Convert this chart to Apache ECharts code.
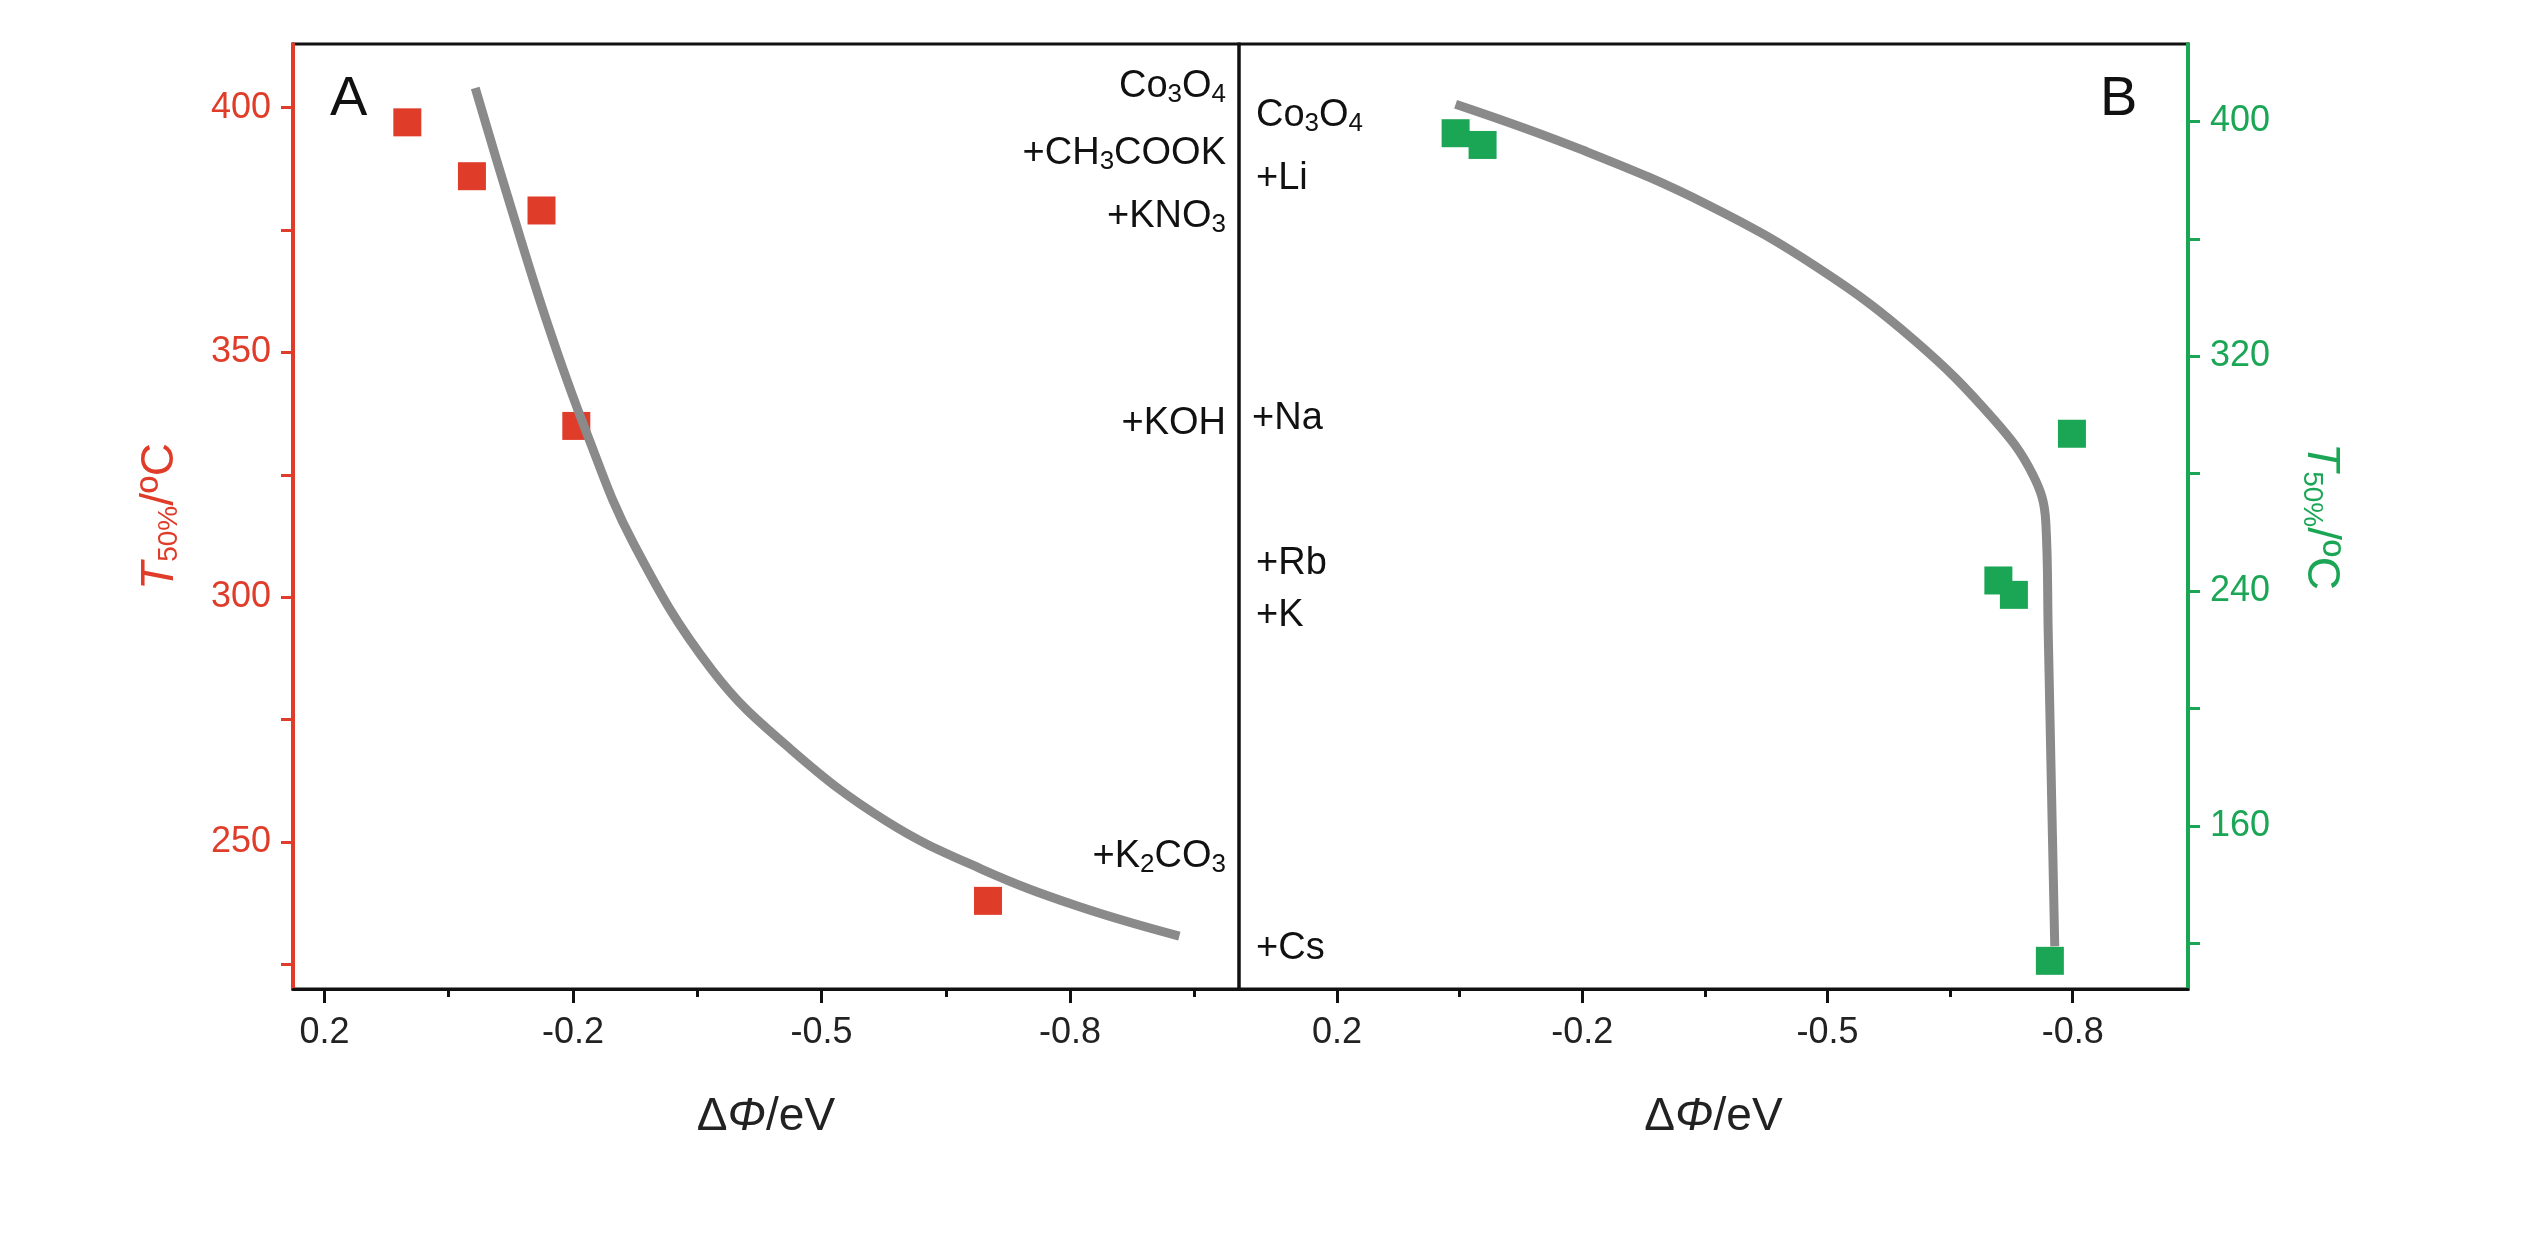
<!DOCTYPE html>
<html>
<head>
<meta charset="utf-8">
<script src="https://cdn.jsdelivr.net/npm/echarts@6/dist/echarts.min.js"></script>
<style>html,body{margin:0;background:#fff}#c{width:2531px;height:1244px}</style>
</head>
<body>
<div id="c"></div>
<script>
// tick positions and the labels printed under them
const xTickVals = [0.1, -0.2, -0.5, -0.8];
const xTickLabels = ['0.2', '-0.2', '-0.5', '-0.8'];
const xMinorVals = [-0.05, -0.35, -0.65, -0.95];
const aTicks = [250, 300, 350, 400];
const aMinor = [225, 275, 325, 375];
const bTicks = [160, 240, 320, 400];
const bMinor = [120, 200, 280, 360];
// panel A (left axis)
const aPoints = [[0.0, 397], [-0.078, 386], [-0.162, 379], [-0.204, 335], [-0.701, 238]];
const aCurve = [[-0.082, 404], [-0.120, 382.5], [-0.168, 356.5], [-0.216, 333.8], [-0.273, 311], [-0.368, 285.1],
    [-0.464, 268.8], [-0.579, 254.2], [-0.693, 244.5], [-0.808, 237], [-0.932, 230.8]];
// panel B (right axis)
const bPoints = [[-0.045, 396], [-0.078, 392], [-0.709, 243.6], [-0.728, 238.7], [-0.799, 293.6], [-0.772, 114]];
const bCurve = [[-0.045, 405.9], [-0.2, 390.3], [-0.355, 371.4], [-0.49, 349.8], [-0.606, 325.5], [-0.703, 298.6],
    [-0.751, 279.7], [-0.767, 263.5], [-0.770, 225.7], [-0.774, 171.8], [-0.778, 118.9]];

const RED = '#e03c2a', GREEN = '#1aa655', GREY = '#8a8a8a';
const FONT = 'Arial, "Liberation Sans", sans-serif';

function xAxisDef(idx, min, max) {
    return {
        type: 'value', gridIndex: idx, inverse: true, min: min, max: max,
        name: '{d|Δ}{i|Φ}{d|/eV}', nameLocation: 'middle', nameGap: 105,
        nameTextStyle: { rich: { d: { fontSize: 46, fontFamily: FONT, color: '#222' }, i: { fontSize: 46, fontStyle: 'italic', fontFamily: FONT, color: '#222' } } },
        axisLine: { show: true, onZero: false, lineStyle: { color: '#111', width: 3 } },
        axisTick: { show: true, length: 14, lineStyle: { color: '#111', width: 3 }, customValues: xTickVals },
        axisLabel: {
            customValues: xTickVals, margin: 26, fontSize: 36, color: '#222', fontFamily: FONT,
            formatter: v => xTickLabels[xTickVals.findIndex(t => Math.abs(t - v) < 1e-6)] || ''
        },
        splitLine: { show: false }
    };
}
function minorX(idx, min, max) {
    return {
        type: 'value', gridIndex: idx, inverse: true, min: min, max: max, position: 'bottom',
        axisLine: { show: false, onZero: false }, axisLabel: { show: false }, splitLine: { show: false },
        axisTick: { show: true, length: 8, lineStyle: { color: '#111', width: 3 }, customValues: xMinorVals }
    };
}
function yName(color) {
    return { rich: { t: { fontSize: 46, fontStyle: 'italic', color: color, fontFamily: FONT },
        s: { fontSize: 28, color: color, fontFamily: FONT, padding: [18, 0, 0, 0] }, n: { fontSize: 46, color: color, fontFamily: FONT } } };
}
function yAxisDef(idx, pos, min, max, ticks, color, rot, minor) {
    return {
        type: 'value', gridIndex: idx, position: pos, min: min, max: max,
        name: '{t|T}{s|50%}{n|/ºC}', nameLocation: 'middle', nameGap: 110, nameRotate: rot,
        nameTextStyle: yName(color),
        axisLine: { show: true, onZero: false, lineStyle: { color: color, width: 4 } },
        axisTick: { customValues: ticks.concat(minor), length: 12, lineStyle: { color: color, width: 3 } },
        axisLabel: { customValues: ticks, fontSize: 36, color: color, margin: 22, fontFamily: FONT },
        splitLine: { show: false }
    };
}

const chart = echarts.init(document.getElementById('c'));
chart.setOption({
    animation: false,
    grid: [
        { left: 293, top: 44, width: 946, height: 945, show: true, borderColor: '#111', borderWidth: 3 },
        { left: 1239, top: 44, width: 949, height: 945, show: true, borderColor: '#111', borderWidth: 3 }
    ],
    xAxis: [xAxisDef(0, -1.004, 0.138), xAxisDef(1, -0.941, 0.22), minorX(0, -1.004, 0.138), minorX(1, -0.941, 0.22)],
    yAxis: [
        yAxisDef(0, 'left', 220, 413, aTicks, RED, 90, aMinor),
        yAxisDef(1, 'right', 104.4, 426.4, bTicks, GREEN, -90, bMinor)
    ],
    series: [
        { type: 'line', xAxisIndex: 0, yAxisIndex: 0, data: aCurve, smooth: 0.4, showSymbol: false, lineStyle: { color: GREY, width: 9 } },
        { type: 'scatter', xAxisIndex: 0, yAxisIndex: 0, data: aPoints, symbol: 'rect', symbolSize: 28, itemStyle: { color: RED, opacity: 1 } },
        { type: 'line', xAxisIndex: 1, yAxisIndex: 1, data: bCurve, smooth: 0.4, showSymbol: false, lineStyle: { color: GREY, width: 9 } },
        { type: 'scatter', xAxisIndex: 1, yAxisIndex: 1, data: bPoints, symbol: 'rect', symbolSize: 28, itemStyle: { color: GREEN, opacity: 1 } }
    ],
    graphic: (function () {
        const rich = { n: { fontSize: 38, fontFamily: FONT, fill: '#111' }, s: { fontSize: 26, fontFamily: FONT, fill: '#111', padding: [16, 0, 0, 0] } };
        const rt = (x, y, text) => ({ type: 'text', right: 2531 - x, top: y, style: { text: text, rich: rich, align: 'right', fill: '#111' } });
        const lt = (x, y, text) => ({ type: 'text', left: x, top: y, style: { text: text, rich: rich, fill: '#111' } });
        return [
            { type: 'text', left: 330, top: 72, style: { text: 'A', fontSize: 56, fontFamily: FONT, fill: '#111' } },
            { type: 'text', left: 2100, top: 72, style: { text: 'B', fontSize: 56, fontFamily: FONT, fill: '#111' } },
            rt(1226, 68, '{n|Co}{s|3}{n|O}{s|4}'),
            rt(1226, 135, '{n|+CH}{s|3}{n|COOK}'),
            rt(1226, 198, '{n|+KNO}{s|3}'),
            rt(1226, 405, '{n|+KOH}'),
            rt(1226, 838, '{n|+K}{s|2}{n|CO}{s|3}'),
            lt(1256, 97, '{n|Co}{s|3}{n|O}{s|4}'),
            lt(1256, 160, '{n|+Li}'),
            lt(1252, 400, '{n|+Na}'),
            lt(1256, 545, '{n|+Rb}'),
            lt(1256, 597, '{n|+K}'),
            lt(1256, 930, '{n|+Cs}')
        ];
    })()
});
</script>
</body>
</html>
